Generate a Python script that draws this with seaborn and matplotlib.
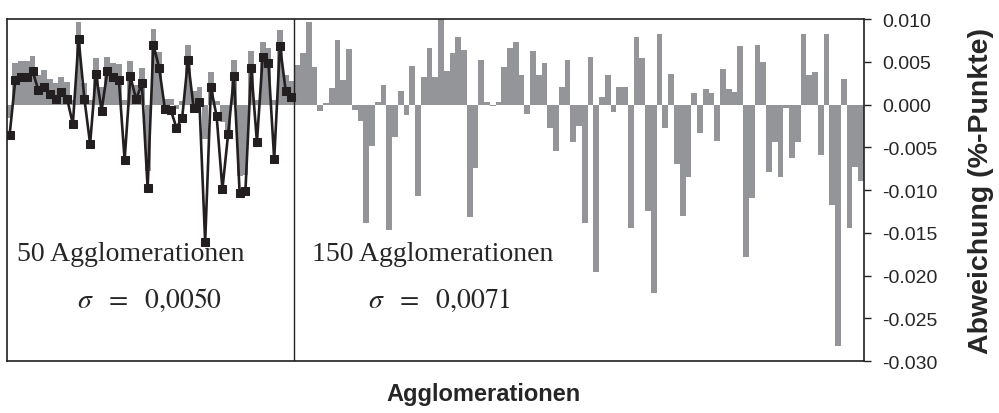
import numpy as np
import pandas as pd
import matplotlib
matplotlib.use("Agg")
import matplotlib.pyplot as plt
import seaborn as sns

# ===================== Daten (Einheit: 0.001) =====================
# Abweichung der 150er-Lösung, erste 50 Agglomerationen (graue Balken links)
grey_left = [-1.6, 4.8, 5.1, 5.1, 5.7, 3.5, 4.0, 3.0, 2.5, 3.2,
             2.6, 0.5, 9.6, 2.5, 0.5, 5.4, 2.0, 5.6, 4.9, 4.7,
             0.5, 5.1, 2.3, 4.3, -7.8, 8.8, 6.2, 0.7, 0.6, -0.5,
             0.4, 7.0, 1.6, 2.1, -4.0, 3.8, 0.4, -2.0, -3.0, 5.2,
             -8.4, -8.2, 6.3, 0.5, 7.3, 6.6, 0.5, 8.7, 3.4, 2.8]
# restliche Agglomerationen (graue Balken rechts)
grey_right = [4.6, 6.0, 9.7, 4.4, -0.8, 0.2, 1.9, 7.5, 2.9, 6.5,
              -0.6, -1.9, -13.9, -4.9, 0.3, 2.3, -14.7, -3.8, 1.6, -1.2,
              4.5, -10.7, 3.2, 6.6, 3.2, 10.0, 3.9, 6.0, 7.9, 6.4,
              -13.2, -7.4, 5.2, 0.3, -0.2, 0.3, 4.4, 6.6, 7.3, 3.5,
              -1.1, 6.3, 3.5, 4.9, -2.7, -5.4, 2.1, 5.2, -4.4, -2.5,
              -13.9, 5.6, -19.6, 0.9, 3.4, -0.9, 2.0, 2.1, -14.4, 7.9,
              5.4, -12.4, -22.0, 8.3, -2.8, 3.6, -7.0, -13.0, -8.5, 1.3,
              -3.3, 1.8, 1.4, -4.3, 4.2, 1.8, 1.45, 6.8, -17.8, -10.9,
              7.0, 5.0, -7.9, -4.4, -8.5, -0.4, -6.2, -4.4, 8.3, 3.4,
              3.8, -5.9, 8.2, -11.8, -28.3, 3.0, -14.5, -7.3, -8.9]
# Abweichung der 50er-Lösung (schwarze Linie)
line_50 = [-3.6, 2.9, 3.2, 3.2, 3.9, 1.7, 2.1, 1.2, 0.7, 1.5,
           0.7, -2.3, 7.7, 0.7, -4.6, 3.6, -0.7, 3.9, 3.2, 2.9,
           -6.5, 3.3, 0.6, 2.5, -9.8, 7.0, 4.3, -0.5, -0.6, -2.7,
           -1.6, 5.2, -0.4, 0.3, -16.1, 2.0, -1.4, -9.9, -3.4, 3.3,
           -10.4, -10.1, 4.3, -4.4, 5.6, 4.8, -6.4, 6.9, 1.6, 0.9]

yticks = [0.010, 0.005, 0.000, -0.005, -0.010, -0.015, -0.020, -0.025, -0.030]

grey = np.array(grey_left + grey_right) / 1000
line = np.array(line_50) / 1000
df_bar = pd.DataFrame({"idx": np.arange(len(grey)), "abw": grey})
df_line = pd.DataFrame({"idx": np.arange(len(line)), "abw": line})

# ===================== Plot =====================
sns.set_style("white")
plt.rcParams["font.family"] = ["Liberation Sans", "DejaVu Sans"]
plt.rcParams["axes.unicode_minus"] = False
plt.rcParams["mathtext.fontset"] = "stix"

fig = plt.figure(figsize=(9.99, 4.14), dpi=100)
ax = fig.add_axes([0.0067, 0.1256, 0.858, 0.826])

sns.barplot(data=df_bar, x="idx", y="abw", color="#949599", saturation=1,
            width=1.0, linewidth=0, ax=ax)
sns.lineplot(data=df_line, x="idx", y="abw", color="#231f20", linewidth=1.9,
             marker="s", markersize=5.5, markeredgecolor="#231f20", ax=ax)

ax.axvline(len(grey_left) - 0.5, color="#231f20", linewidth=1.0)

ax.set_xlim(-0.5, len(grey) - 0.5)
ax.set_ylim(-0.030, 0.010)
ax.set_xticks([])
ax.yaxis.tick_right()
ax.yaxis.set_label_position("right")
ax.set_yticks(yticks)
ax.set_yticklabels([f"{t:.3f}" for t in yticks], fontsize=14)
ax.tick_params(axis="y", direction="out", length=5, width=1, color="#231f20", pad=8)
for s in ax.spines.values():
    s.set_color("#231f20")
    s.set_linewidth(1.2)

ax.set_xlabel("Agglomerationen", fontsize=17, fontweight="bold")
ax.xaxis.set_label_coords(0.556, -0.06)
ax.set_ylabel("Abweichung (%-Punkte)", fontsize=20.5, fontweight="bold", labelpad=22)

serif = ["Liberation Serif", "DejaVu Serif"]
ax.text(0.012, 0.313, "50 Agglomerationen", transform=ax.transAxes,
        fontsize=20, family=serif, va="center", ha="left")
ax.text(0.167, 0.181, r"$\sigma\ \ =\ \ 0{,}0050$", transform=ax.transAxes,
        fontsize=20, family=serif, va="center", ha="center")
ax.text(0.356, 0.313, "150 Agglomerationen", transform=ax.transAxes,
        fontsize=20, family=serif, va="center", ha="left")
ax.text(0.505, 0.181, r"$\sigma\ \ =\ \ 0{,}0071$", transform=ax.transAxes,
        fontsize=20, family=serif, va="center", ha="center")

plt.savefig("out.png", dpi=100)
